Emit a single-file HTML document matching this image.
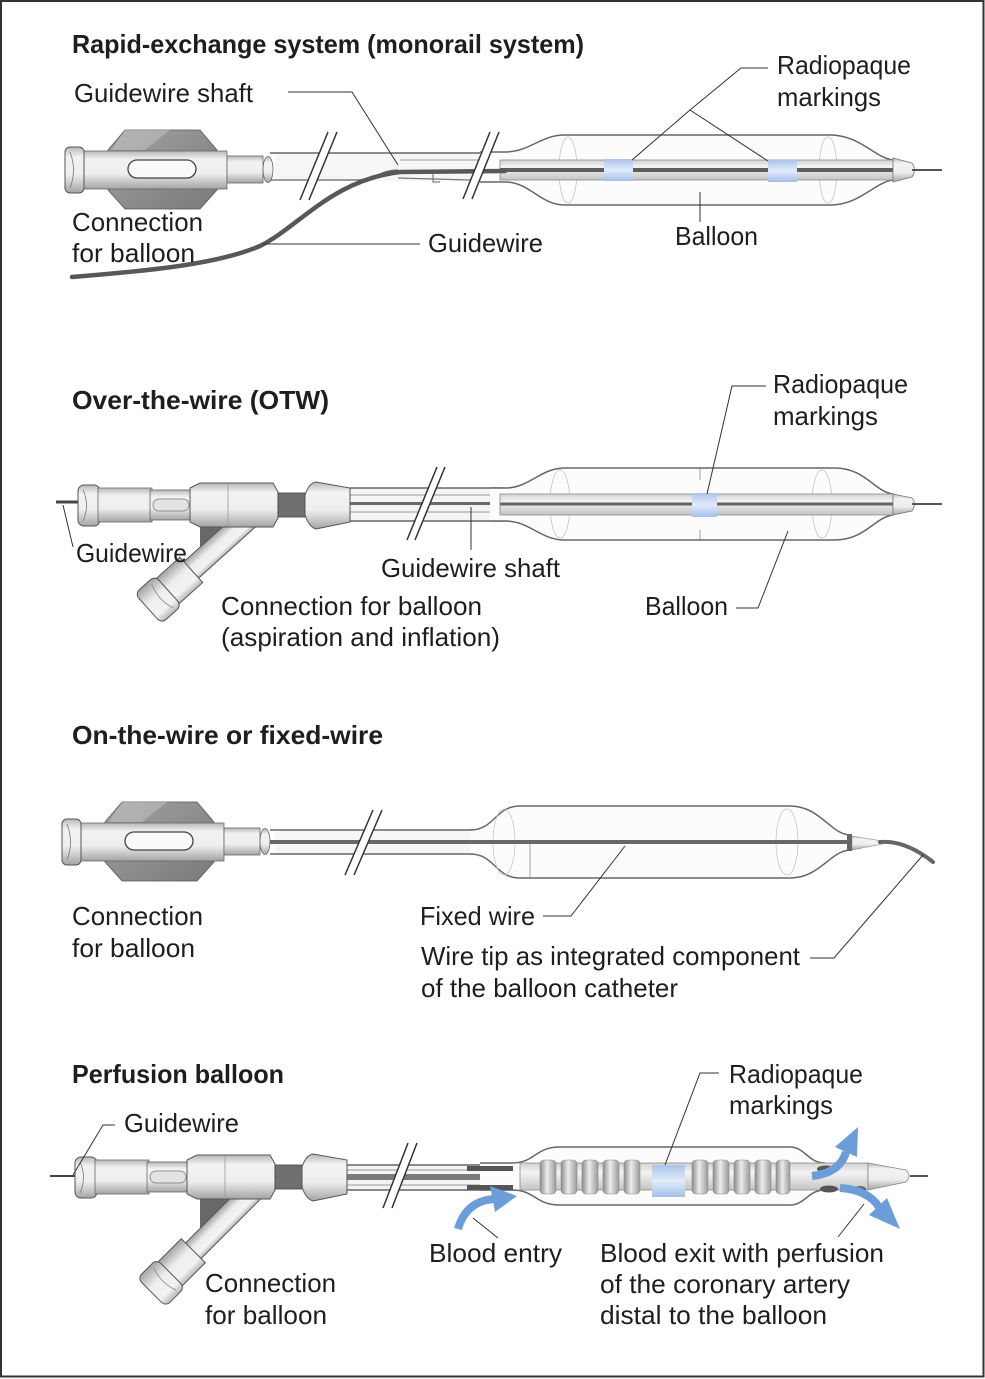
<!DOCTYPE html>
<html><head><meta charset="utf-8"><style>html,body{margin:0;padding:0;background:#fff}svg{display:block}text{font-family:"Liberation Sans",Arial,sans-serif;fill:#1e1e1e}</style></head>
<body>
<svg width="985" height="1379" viewBox="0 0 985 1379" xmlns="http://www.w3.org/2000/svg">
<defs>
<linearGradient id="cyl" x1="0" y1="0" x2="0" y2="1"><stop offset="0" stop-color="#b8b8b8"/><stop offset="0.22" stop-color="#f2f2f2"/><stop offset="0.6" stop-color="#eeeeee"/><stop offset="1" stop-color="#a4a4a4"/></linearGradient>
<linearGradient id="wing" x1="0" y1="0" x2="1" y2="1"><stop offset="0" stop-color="#a2a2a2"/><stop offset="1" stop-color="#7a7a7a"/></linearGradient>
<linearGradient id="blue" x1="0" y1="0" x2="0" y2="1"><stop offset="0" stop-color="#a9c4ec"/><stop offset="0.5" stop-color="#e2ecfa"/><stop offset="1" stop-color="#a3bfea"/></linearGradient>
<linearGradient id="tube" x1="0" y1="0" x2="0" y2="1"><stop offset="0" stop-color="#d2d2d2"/><stop offset="0.35" stop-color="#f3f3f3"/><stop offset="1" stop-color="#c4c4c4"/></linearGradient>
<linearGradient id="coil" x1="0" y1="0" x2="1" y2="0"><stop offset="0" stop-color="#8c8c8c"/><stop offset="0.45" stop-color="#ececec"/><stop offset="1" stop-color="#9a9a9a"/></linearGradient>
<g id="hubA">
 <polygon points="43,-20 60,-40 135,-40 152,-20 152,20 135,39 60,39 43,20" fill="url(#wing)" stroke="#555" stroke-width="0.8"/>
 <polygon points="60,-40 105,-40 80,-20 47,-20" fill="#c2c2c2" opacity="0.55"/>
 <rect x="17" y="-19" width="145" height="38" fill="url(#cyl)" stroke="#666" stroke-width="0.8"/>
 <rect x="0" y="-23" width="19" height="46" rx="5" fill="url(#cyl)" stroke="#555" stroke-width="1"/>
 <path d="M5,-18 Q12,0 5,18" fill="none" stroke="#777" stroke-width="0.8"/>
 <rect x="63" y="-10" width="68" height="18" rx="9" fill="#fafafa" stroke="#444" stroke-width="1.3"/>
 <rect x="162" y="-14" width="36" height="27" fill="url(#cyl)" stroke="#666" stroke-width="0.8"/>
 <ellipse cx="203" cy="-0.5" rx="5" ry="13" fill="url(#cyl)" stroke="#666" stroke-width="0.8"/>
</g>
<g id="hubB">
 <rect x="0" y="-20" width="22" height="41" rx="6" fill="url(#cyl)" stroke="#555"/>
 <path d="M5,-15 Q12,0 5,16" stroke="#777" fill="none" stroke-width="0.8"/>
 <rect x="20" y="-17" width="54" height="34" fill="url(#cyl)" stroke="#666" stroke-width="0.8"/>
 <rect x="72" y="-15" width="42" height="30" fill="url(#cyl)" stroke="#666" stroke-width="0.8"/>
 <rect x="75" y="-6" width="36" height="12" rx="6" fill="#e4e4e4" stroke="#777" stroke-width="0.8"/>
 <path d="M112,-17 L122,-22 L195,-22 L200,-13 L200,13 L195,22 L122,22 L112,17 Z" fill="url(#cyl)" stroke="#555"/>
 <line x1="150" y1="-22" x2="150" y2="22" stroke="#999" stroke-width="0.8"/>
 <rect x="200" y="-12" width="27" height="24" fill="#707070" stroke="#444" stroke-width="0.8"/>
 <path d="M227,-10 Q231,-22 238,-23 L272,-17 L272,17 L238,24 Q231,22 227,10 Z" fill="url(#cyl)" stroke="#555"/>
</g>
</defs>

<rect x="1" y="1" width="982.5" height="1375.5" fill="#fff" stroke="#333" stroke-width="2"/>

<!-- ============ SECTION 1 ============ -->
<text x="72" y="53" font-size="26" font-weight="bold" textLength="512" lengthAdjust="spacingAndGlyphs">Rapid-exchange system (monorail system)</text>

<rect x="275" y="153" width="230" height="28" fill="#f6f6f6"/>
<path d="M270,153 L505,153" stroke="#666" stroke-width="1.5" fill="none"/>
<path d="M270,180 L355,180 C375,180 380,170 398,170" stroke="#666" stroke-width="1.2" fill="none"/>
<path d="M400,160 L505,160" stroke="#999" stroke-width="1" fill="none"/>
<path d="M398,178 L505,181" stroke="#777" stroke-width="1.2" fill="none"/>
<path d="M433,173 L433,182 L440,182" stroke="#666" stroke-width="1" fill="none"/>
<path d="M480,152 L505,152 C530,152 540,135 565,135 L830,135 C860,135 875,158 893,160 L893,180 C875,182 860,205 830,205 L565,205 C540,205 530,182 505,182 L480,182 Z" fill="#fcfcfc" stroke="none"/>
<path d="M480,152 L505,152 C530,152 540,135 565,135 L830,135 C860,135 875,158 893,160 M893,180 C875,182 860,205 830,205 L565,205 C540,205 530,182 505,182 L480,182" fill="none" stroke="#666" stroke-width="1.5"/>
<ellipse cx="568" cy="170" rx="9" ry="33" fill="none" stroke="#c4c4c4" stroke-width="0.8"/>
<ellipse cx="828" cy="170" rx="9" ry="33" fill="none" stroke="#c4c4c4" stroke-width="0.8"/>
<rect x="500" y="160" width="393" height="20" fill="url(#tube)" stroke="#8a8a8a" stroke-width="0.8"/>
<line x1="500" y1="170" x2="893" y2="170" stroke="#5e5e5e" stroke-width="4"/>
<rect x="604" y="159" width="29" height="22" fill="url(#blue)"/>
<rect x="768" y="160" width="29" height="22" fill="url(#blue)"/>
<path d="M893,158 L912,163 Q917,170 912,177 L893,182 Z" fill="url(#cyl)" stroke="#777" stroke-width="0.8"/>
<line x1="912" y1="170" x2="942" y2="170" stroke="#555" stroke-width="2"/>
<use href="#hubA" x="65" y="170"/>
<path d="M72,277 C160,270 220,263 260,246 C300,226 332,180 400,172 L505,171" fill="none" stroke="#585858" stroke-width="4.5" stroke-linecap="round"/>
<polygon points="300,200 328,132 337,132 309,200" fill="#fff"/>
<line x1="300" y1="200" x2="328" y2="132" stroke="#333" stroke-width="1.5"/>
<line x1="309" y1="200" x2="337" y2="132" stroke="#333" stroke-width="1.5"/>
<polygon points="463,199 490,132 499,132 472,199" fill="#fff"/>
<line x1="463" y1="199" x2="490" y2="132" stroke="#333" stroke-width="1.5"/>
<line x1="472" y1="199" x2="499" y2="132" stroke="#333" stroke-width="1.5"/>
<text x="74" y="102" font-size="26" textLength="179" lengthAdjust="spacingAndGlyphs">Guidewire shaft</text>
<polyline points="288,92 352,92 398,165" fill="none" stroke="#333" stroke-width="1"/>
<text x="777" y="74" font-size="26" textLength="134" lengthAdjust="spacingAndGlyphs">Radiopaque</text>
<text x="777" y="106" font-size="26" textLength="104" lengthAdjust="spacingAndGlyphs">markings</text>
<polyline points="768,68 741,68 690,110 632,160" fill="none" stroke="#333" stroke-width="1"/>
<line x1="690" y1="110" x2="768" y2="161" stroke="#333" stroke-width="1"/>
<text x="72" y="231" font-size="26" textLength="131" lengthAdjust="spacingAndGlyphs">Connection</text>
<text x="72" y="262" font-size="26" textLength="123" lengthAdjust="spacingAndGlyphs">for balloon</text>
<line x1="263" y1="244" x2="420" y2="244" stroke="#333" stroke-width="1"/>
<text x="428" y="252" font-size="26" textLength="115" lengthAdjust="spacingAndGlyphs">Guidewire</text>
<line x1="700" y1="192" x2="700" y2="222" stroke="#333" stroke-width="1"/>
<text x="675" y="245" font-size="26" textLength="83" lengthAdjust="spacingAndGlyphs">Balloon</text>

<!-- ============ SECTION 2 ============ -->
<text x="72" y="409" font-size="26" font-weight="bold" textLength="257" lengthAdjust="spacingAndGlyphs">Over-the-wire (OTW)</text>
<line x1="56" y1="502" x2="82" y2="502" stroke="#444" stroke-width="3"/>
<rect x="350" y="488" width="155" height="33" fill="#f4f4f4"/>
<line x1="350" y1="488" x2="505" y2="488" stroke="#666" stroke-width="1.4"/>
<line x1="350" y1="521" x2="505" y2="521" stroke="#666" stroke-width="1.4"/>
<line x1="350" y1="495" x2="505" y2="495" stroke="#999" stroke-width="1"/>
<line x1="350" y1="512" x2="505" y2="512" stroke="#999" stroke-width="1"/>
<line x1="350" y1="503.5" x2="505" y2="503.5" stroke="#6a6a6a" stroke-width="3"/>
<path d="M490,488 L505,488 C530,488 540,468 565,468 L835,468 C865,468 875,492 893,494 L893,515 C875,517 865,540 835,540 L565,540 C540,540 530,521 505,521 L490,521 Z" fill="#fcfcfc"/>
<path d="M490,488 L505,488 C530,488 540,468 565,468 L835,468 C865,468 875,492 893,494 M893,515 C875,517 865,540 835,540 L565,540 C540,540 530,521 505,521 L490,521" fill="none" stroke="#666" stroke-width="1.5"/>
<ellipse cx="560" cy="504" rx="10" ry="34" fill="none" stroke="#c4c4c4" stroke-width="0.8"/>
<ellipse cx="822" cy="504" rx="10" ry="34" fill="none" stroke="#c4c4c4" stroke-width="0.8"/>
<rect x="500" y="494" width="393" height="21" fill="url(#tube)" stroke="#8a8a8a" stroke-width="0.8"/>
<line x1="500" y1="504" x2="893" y2="504" stroke="#646464" stroke-width="3"/>
<rect x="692" y="493" width="25" height="24" fill="url(#blue)"/>
<line x1="700" y1="468" x2="700" y2="480" stroke="#888" stroke-width="0.8"/>
<line x1="700" y1="530" x2="700" y2="541" stroke="#888" stroke-width="0.8"/>
<path d="M893,494 L912,498 Q917,504 912,511 L893,515 Z" fill="url(#cyl)" stroke="#777" stroke-width="0.8"/>
<line x1="912" y1="504" x2="942" y2="504" stroke="#555" stroke-width="2"/>
<polygon points="200,522 242,522 218,554 200,554" fill="#686868"/>
<g transform="translate(250,517) rotate(138)">
 <rect x="-5" y="-11" width="86" height="22" fill="url(#cyl)" stroke="#555"/>
 <rect x="79" y="-17" width="35" height="34" fill="url(#cyl)" stroke="#555"/>
 <rect x="110" y="-20" width="27" height="40" rx="6" fill="url(#cyl)" stroke="#555"/>
 <path d="M118,-16 Q124,0 118,16" stroke="#888" fill="none" stroke-width="0.8"/>
</g>
<use href="#hubB" x="78" y="505"/>
<polygon points="407,540 437,467 445,467 415,540" fill="#fff"/>
<line x1="407" y1="540" x2="437" y2="467" stroke="#333" stroke-width="1.5"/>
<line x1="415" y1="540" x2="445" y2="467" stroke="#333" stroke-width="1.5"/>
<text x="773" y="393" font-size="26" textLength="135" lengthAdjust="spacingAndGlyphs">Radiopaque</text>
<text x="773" y="425" font-size="26" textLength="105" lengthAdjust="spacingAndGlyphs">markings</text>
<polyline points="766,386 732,386 707,494" fill="none" stroke="#333" stroke-width="1"/>
<line x1="63" y1="505" x2="73" y2="547" stroke="#333" stroke-width="1"/>
<text x="76" y="562" font-size="26" textLength="111" lengthAdjust="spacingAndGlyphs">Guidewire</text>
<line x1="471" y1="507" x2="471" y2="550" stroke="#333" stroke-width="1"/>
<text x="381" y="577" font-size="26" textLength="179" lengthAdjust="spacingAndGlyphs">Guidewire shaft</text>
<text x="221" y="615" font-size="26" textLength="261" lengthAdjust="spacingAndGlyphs">Connection for balloon</text>
<text x="221" y="646" font-size="26" textLength="279" lengthAdjust="spacingAndGlyphs">(aspiration and inflation)</text>
<text x="645" y="615" font-size="26" textLength="83" lengthAdjust="spacingAndGlyphs">Balloon</text>
<polyline points="736,608 758,608 788,531" fill="none" stroke="#333" stroke-width="1"/>

<!-- ============ SECTION 3 ============ -->
<text x="72" y="744" font-size="26" font-weight="bold" textLength="311" lengthAdjust="spacingAndGlyphs">On-the-wire or fixed-wire</text>
<rect x="275" y="830" width="210" height="24" fill="#f6f6f6"/>
<line x1="270" y1="830" x2="485" y2="830" stroke="#666" stroke-width="1.4"/>
<line x1="270" y1="854" x2="485" y2="854" stroke="#666" stroke-width="1.4"/>
<path d="M470,830 C495,830 495,806 520,806 L790,806 C820,806 830,834 850,835 L850,850 C830,851 820,878 790,878 L520,878 C495,878 495,854 470,854 Z" fill="#fcfcfc"/>
<path d="M470,830 C495,830 495,806 520,806 L790,806 C820,806 830,834 850,835 M850,850 C830,851 820,878 790,878 L520,878 C495,878 495,854 470,854" fill="none" stroke="#666" stroke-width="1.5"/>
<ellipse cx="504" cy="842" rx="11" ry="33" fill="none" stroke="#c4c4c4" stroke-width="0.8"/>
<ellipse cx="787" cy="842" rx="11" ry="33" fill="none" stroke="#c4c4c4" stroke-width="0.8"/>
<line x1="530" y1="843" x2="530" y2="879" stroke="#888" stroke-width="0.8"/>
<line x1="270" y1="842" x2="850" y2="842" stroke="#686868" stroke-width="4"/>
<rect x="847" y="834" width="5" height="17" fill="#666"/>
<path d="M852,836 L882,841 L882,844 L852,850 Z" fill="url(#cyl)" stroke="#888" stroke-width="0.6"/>
<path d="M880,842 Q905,840 933,862" fill="none" stroke="#666" stroke-width="4" stroke-linecap="round"/>
<use href="#hubA" x="62" y="842"/>
<polygon points="345,875 373,810 382,810 354,875" fill="#fff"/>
<line x1="345" y1="875" x2="373" y2="810" stroke="#333" stroke-width="1.5"/>
<line x1="354" y1="875" x2="382" y2="810" stroke="#333" stroke-width="1.5"/>
<text x="72" y="925" font-size="26" textLength="131" lengthAdjust="spacingAndGlyphs">Connection</text>
<text x="72" y="957" font-size="26" textLength="123" lengthAdjust="spacingAndGlyphs">for balloon</text>
<text x="420" y="925" font-size="26" textLength="115" lengthAdjust="spacingAndGlyphs">Fixed wire</text>
<polyline points="543,916 571,916 625,846" fill="none" stroke="#333" stroke-width="1"/>
<text x="421" y="965" font-size="26" textLength="379" lengthAdjust="spacingAndGlyphs">Wire tip as integrated component</text>
<text x="421" y="997" font-size="26" textLength="257" lengthAdjust="spacingAndGlyphs">of the balloon catheter</text>
<polyline points="810,958 834,958 923,855" fill="none" stroke="#333" stroke-width="1"/>

<!-- ============ SECTION 4 ============ -->
<text x="72" y="1083" font-size="26" font-weight="bold" textLength="212" lengthAdjust="spacingAndGlyphs">Perfusion balloon</text>
<line x1="50" y1="1176" x2="80" y2="1176" stroke="#444" stroke-width="2"/>
<rect x="340" y="1165" width="180" height="25" fill="#f3f3f3"/>
<line x1="340" y1="1165" x2="520" y2="1165" stroke="#666" stroke-width="1.4"/>
<line x1="340" y1="1190" x2="520" y2="1190" stroke="#666" stroke-width="1.4"/>
<line x1="340" y1="1170" x2="520" y2="1170" stroke="#999" stroke-width="1"/>
<line x1="340" y1="1185" x2="520" y2="1185" stroke="#999" stroke-width="1"/>
<rect x="340" y="1174" width="200" height="6" fill="#7a7a7a"/>
<path d="M480,1163 L512,1163 C535,1163 535,1147 560,1147 L790,1147 C805,1147 808,1163 825,1163 L868,1163 L868,1190 L825,1190 C808,1190 805,1205 790,1205 L560,1205 C535,1205 535,1190 512,1190 L480,1190 Z" fill="#fcfcfc"/>
<path d="M480,1163 L512,1163 C535,1163 535,1147 560,1147 L790,1147 C805,1147 808,1163 825,1163 M825,1190 C808,1190 805,1205 790,1205 L560,1205 C535,1205 535,1190 512,1190 L480,1190" fill="none" stroke="#666" stroke-width="1.5"/>
<rect x="467" y="1166" width="46" height="5" fill="#555"/>
<rect x="467" y="1185" width="46" height="5" fill="#555"/>
<rect x="520" y="1163" width="348" height="27" fill="url(#tube)" stroke="#888" stroke-width="0.8"/>
<g fill="url(#coil)" stroke="#8a8a8a" stroke-width="0.6">
 <rect x="540" y="1160" width="16" height="34" rx="4"/>
 <rect x="561" y="1160" width="16" height="34" rx="4"/>
 <rect x="582" y="1160" width="16" height="34" rx="4"/>
 <rect x="603" y="1160" width="16" height="34" rx="4"/>
 <rect x="624" y="1160" width="16" height="34" rx="4"/>
 <rect x="692" y="1160" width="16" height="34" rx="4"/>
 <rect x="713" y="1160" width="16" height="34" rx="4"/>
 <rect x="734" y="1160" width="16" height="34" rx="4"/>
 <rect x="755" y="1160" width="16" height="34" rx="4"/>
 <rect x="776" y="1160" width="14" height="34" rx="4"/>
</g>
<rect x="652" y="1165" width="33" height="32" fill="url(#blue)"/>
<ellipse cx="826" cy="1169" rx="9" ry="3.5" fill="#555"/>
<ellipse cx="829" cy="1189" rx="9" ry="3.5" fill="#555"/>
<ellipse cx="860" cy="1189" rx="6" ry="3" fill="#666"/>
<path d="M868,1163 L906,1170 Q912,1176 906,1182 L868,1190 Z" fill="url(#cyl)" stroke="#888" stroke-width="0.8"/>
<line x1="910" y1="1176" x2="928" y2="1176" stroke="#555" stroke-width="2"/>
<polygon points="200,1195 242,1195 220,1240 200,1240" fill="#686868"/>
<g transform="translate(252,1192) rotate(135)">
 <rect x="-5" y="-11" width="90" height="22" fill="url(#cyl)" stroke="#555"/>
 <rect x="83" y="-17" width="36" height="34" fill="url(#cyl)" stroke="#555"/>
 <rect x="115" y="-20" width="27" height="40" rx="6" fill="url(#cyl)" stroke="#555"/>
 <path d="M123,-16 Q129,0 123,16" stroke="#888" fill="none" stroke-width="0.8"/>
</g>
<use href="#hubB" x="75" y="1177"/>
<polygon points="383,1208 408,1143 417,1143 392,1208" fill="#fff"/>
<line x1="383" y1="1208" x2="408" y2="1143" stroke="#333" stroke-width="1.5"/>
<line x1="392" y1="1208" x2="417" y2="1143" stroke="#333" stroke-width="1.5"/>
<g fill="none" stroke="#6b9ed9" stroke-width="8">
 <path d="M458,1229 Q466,1201 494,1199"/>
 <path d="M812,1176 Q840,1173 846,1152"/>
 <path d="M840,1188 Q868,1190 879,1207"/>
</g>
<g fill="#6b9ed9">
 <polygon points="517,1196 490,1186 495,1212"/>
 <polygon points="858,1127 857,1157 835,1147"/>
 <polygon points="900,1229 887,1198 869,1215"/>
</g>
<text x="729" y="1083" font-size="26" textLength="134" lengthAdjust="spacingAndGlyphs">Radiopaque</text>
<text x="729" y="1114" font-size="26" textLength="104" lengthAdjust="spacingAndGlyphs">markings</text>
<polyline points="719,1073 700,1073 665,1165" fill="none" stroke="#333" stroke-width="1"/>
<polyline points="115,1125 103,1125 73,1175" fill="none" stroke="#333" stroke-width="1"/>
<text x="124" y="1132" font-size="26" textLength="115" lengthAdjust="spacingAndGlyphs">Guidewire</text>
<line x1="473" y1="1218" x2="498" y2="1238" stroke="#333" stroke-width="1"/>
<text x="429" y="1262" font-size="26" textLength="133" lengthAdjust="spacingAndGlyphs">Blood entry</text>
<line x1="838" y1="1237" x2="864" y2="1204" stroke="#333" stroke-width="1"/>
<text x="600" y="1262" font-size="26" textLength="284" lengthAdjust="spacingAndGlyphs">Blood exit with perfusion</text>
<text x="600" y="1293" font-size="26" textLength="250" lengthAdjust="spacingAndGlyphs">of the coronary artery</text>
<text x="600" y="1324" font-size="26" textLength="227" lengthAdjust="spacingAndGlyphs">distal to the balloon</text>
<text x="205" y="1292" font-size="26" textLength="131" lengthAdjust="spacingAndGlyphs">Connection</text>
<text x="205" y="1324" font-size="26" textLength="122" lengthAdjust="spacingAndGlyphs">for balloon</text>
</svg>
</body></html>
